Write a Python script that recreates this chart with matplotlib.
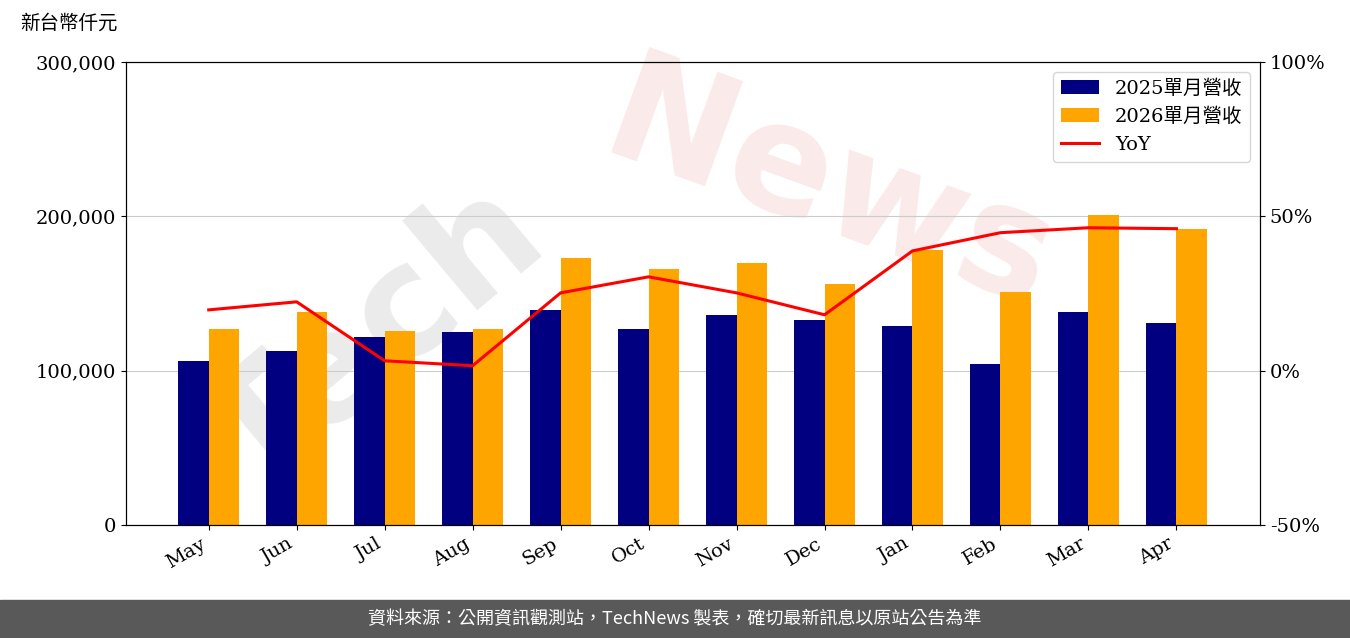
import matplotlib.pyplot as plt
import numpy as np

months = ['May', 'Jun', 'Jul', 'Aug', 'Sep', 'Oct', 'Nov', 'Dec', 'Jan', 'Feb', 'Mar', 'Apr']
rev_2025 = [106000, 113000, 122000, 125000, 139000, 127000, 136000, 133000, 129000, 104000, 138000, 131000]
rev_2026 = [127000, 138000, 126000, 127000, 173000, 166000, 170000, 156000, 178000, 151000, 201000, 192000]
yoy = [19.7, 22.3, 3.2, 1.6, 25.2, 30.4, 25.2, 18.1, 38.8, 44.7, 46.3, 46.0]

fam = ['DejaVu Serif', 'Noto Sans CJK TC']
plt.rcParams['font.family'] = fam

fig = plt.figure(figsize=(13.5, 6.38), dpi=100)
ax = fig.add_axes([126 / 1350, 1 - 525 / 638, 1134 / 1350, 463 / 638])
x = np.arange(len(months))
w = 0.35
ax.bar(x - w / 2, rev_2025, w, color='#000080', label='2025單月營收', zorder=2)
ax.bar(x + w / 2, rev_2026, w, color='#FFA500', label='2026單月營收', zorder=2)
ax.set_ylim(0, 300000)
ax.set_yticks([0, 100000, 200000, 300000])
ax.set_yticklabels(['0', '100,000', '200,000', '300,000'], fontsize=14)
ax.grid(axis='y', color='#cccccc', zorder=0)
ax.set_xticks(x)
ax.set_xticklabels(months, rotation=30, ha='right', fontsize=14)
ax.set_xlim(-0.94, 11.95)

ax2 = ax.twinx()
ax2.plot(x, yoy, color='red', lw=2.2, label='YoY')
ax2.set_ylim(-50, 100)
ax2.set_yticks([-50, 0, 50, 100])
ax2.set_yticklabels(['-50%', '0%', '50%', '100%'], fontsize=14)

h1, l1 = ax.get_legend_handles_labels()
h2, l2 = ax2.get_legend_handles_labels()
ax2.legend(h1 + h2, l1 + l2, loc='upper right', fontsize=14)

fig.text(0.015, 0.955, '新台幣仟元', fontsize=14, family=['Noto Sans CJK TC'])
# watermark
ax.text(0.22, 0.4, 'Tech', transform=ax.transAxes, fontsize=110, color='#b0b0b0', alpha=0.25,
        rotation=40, ha='center', va='center', family=['DejaVu Sans'], weight='bold', zorder=1)
ax.text(0.62, 0.72, 'News', transform=ax.transAxes, fontsize=110, color='#e8a0a0', alpha=0.22,
        rotation=-20, ha='center', va='center', family=['DejaVu Sans'], weight='bold', zorder=1)

fig.patches.append(plt.Rectangle((0, 0), 1, 38 / 638, transform=fig.transFigure,
                                 color='#595959', zorder=0))
fig.text(0.5, 19 / 638, '資料來源：公開資訊觀測站，TechNews 製表，確切最新訊息以原站公告為準',
         ha='center', va='center', color='white', fontsize=13,
         family=['Noto Sans CJK TC', 'DejaVu Sans'])

fig.savefig('out.png')
